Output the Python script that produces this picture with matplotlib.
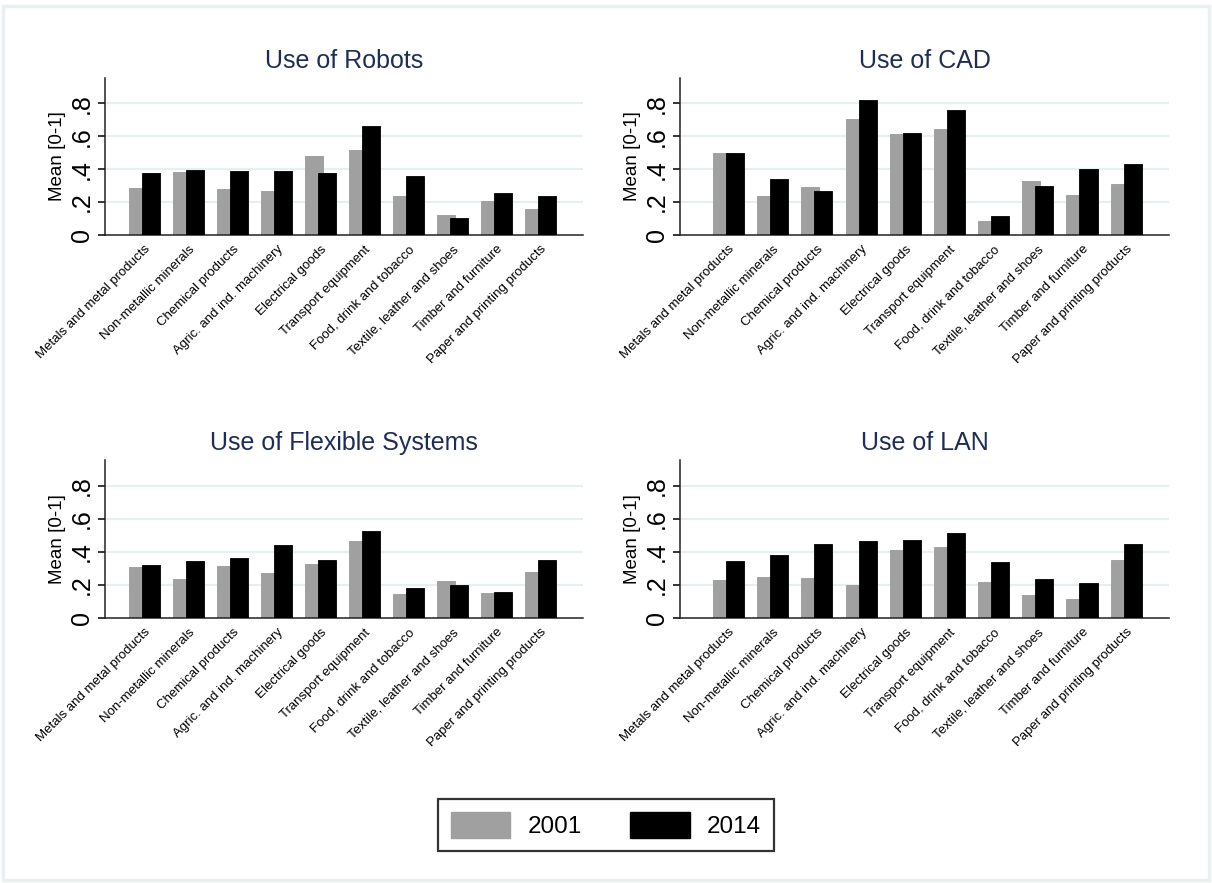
import matplotlib
matplotlib.use("Agg")
import matplotlib.pyplot as plt
from matplotlib.patches import Patch, Rectangle
import numpy as np

plt.rcParams['font.family'] = ['Liberation Sans', 'DejaVu Sans']

sectors = ["Metals and metal products", "Non-metallic minerals", "Chemical products",
           "Agric. and ind. machinery", "Electrical goods", "Transport equipment",
           "Food, drink and tobacco", "Textile, leather and shoes",
           "Timber and furniture", "Paper and printing products"]

robots_2001 = [0.284, 0.386, 0.282, 0.269, 0.478, 0.518, 0.239, 0.120, 0.206, 0.161]
robots_2014 = [0.378, 0.396, 0.392, 0.390, 0.376, 0.663, 0.359, 0.102, 0.255, 0.235]

cad_2001 = [0.498, 0.237, 0.294, 0.708, 0.616, 0.645, 0.088, 0.327, 0.243, 0.310]
cad_2014 = [0.500, 0.341, 0.267, 0.820, 0.622, 0.763, 0.116, 0.298, 0.404, 0.429]

flex_2001 = [0.310, 0.237, 0.314, 0.269, 0.329, 0.465, 0.145, 0.224, 0.149, 0.278]
flex_2014 = [0.322, 0.345, 0.361, 0.441, 0.353, 0.524, 0.182, 0.198, 0.155, 0.351]

lan_2001 = [0.229, 0.249, 0.241, 0.202, 0.408, 0.427, 0.220, 0.141, 0.114, 0.353]
lan_2014 = [0.343, 0.382, 0.449, 0.463, 0.471, 0.516, 0.339, 0.235, 0.210, 0.445]

titles = ["Use of Robots", "Use of CAD", "Use of Flexible Systems", "Use of LAN"]
years = ["2001", "2014"]

GRAY = "#a0a0a0"
TITLE_COLOR = "#1e2d55"
GRID_COLOR = "#e6eff1"

W, H = 1212, 883
fig = plt.figure(figsize=(W / 100, H / 100), dpi=100)
fig.patch.set_facecolor("white")

# light outer frame around the whole graph
fig.add_artist(Rectangle((3 / W, 3 / H), 1 - 6 / W, 1 - 9 / H, transform=fig.transFigure,
                         fill=False, edgecolor="#e8f0f2", linewidth=2.5))

# panel boxes in pixels: left, right, top, baseline, xlim left
panels = [
    (105, 583, 78, 235, -0.90),
    (680, 1169, 78, 235, -1.10),
    (105, 583, 460, 618, -0.90),
    (680, 1169, 460, 618, -1.10),
]
series = [(robots_2001, robots_2014), (cad_2001, cad_2014),
          (flex_2001, flex_2014), (lan_2001, lan_2014)]

x = np.arange(len(sectors))
width = 0.41
shift = 0.147

for (left, right, top, base, xl), (v01, v14), title in zip(panels, series, titles):
    ax = fig.add_axes([left / W, 1 - base / H, (right - left) / W, (base - top) / H])
    ax.bar(x - shift, v01, width, color=GRAY, edgecolor="#9a9a9a", linewidth=0.6, zorder=2)
    ax.bar(x + shift, v14, width, color="black", edgecolor="black", linewidth=0.6, zorder=3)

    ax.set_xlim(xl, 9.97)
    ax.set_ylim(0, 0.955)
    ax.set_yticks([0, 0.2, 0.4, 0.6, 0.8])
    ax.set_yticklabels(["0", ".2", ".4", ".6", ".8"], fontsize=18)
    ax.tick_params(axis="y", labelrotation=90, length=5, width=1.1, pad=3)
    for lab in ax.get_yticklabels():
        lab.set_va("center")
    ax.set_ylabel("Mean [0-1]", fontsize=13.5, labelpad=3)

    ax.set_xticks(x)
    ax.set_xticklabels(sectors, rotation=45, ha="right", rotation_mode="anchor", fontsize=9.5)
    ax.tick_params(axis="x", length=0, pad=6)

    for y in [0.2, 0.4, 0.6, 0.8]:
        ax.axhline(y, color=GRID_COLOR, linewidth=1.6, zorder=1)

    ax.spines["top"].set_visible(False)
    ax.spines["right"].set_visible(False)
    ax.spines["left"].set_linewidth(1.1)
    ax.spines["bottom"].set_linewidth(1.1)
    ax.spines["left"].set_color("#222222")
    ax.spines["bottom"].set_color("#222222")

    fig.text((left + right) / 2 / W, 1 - (top - 17) / H, title, ha="center", va="center",
             fontsize=18, color=TITLE_COLOR)

handles = [Patch(facecolor=GRAY, edgecolor=GRAY), Patch(facecolor="black", edgecolor="black")]
leg = fig.legend(handles, years, loc="center", bbox_to_anchor=(606 / W, 1 - 825 / H),
                 ncol=2, fontsize=17.5, fancybox=False, frameon=True, edgecolor="black",
                 handlelength=2.45, handleheight=1.25, handletextpad=0.7, columnspacing=2.0,
                 borderpad=0.55)
leg.get_frame().set_linewidth(1.6)

fig.savefig("out.png", dpi=100)
